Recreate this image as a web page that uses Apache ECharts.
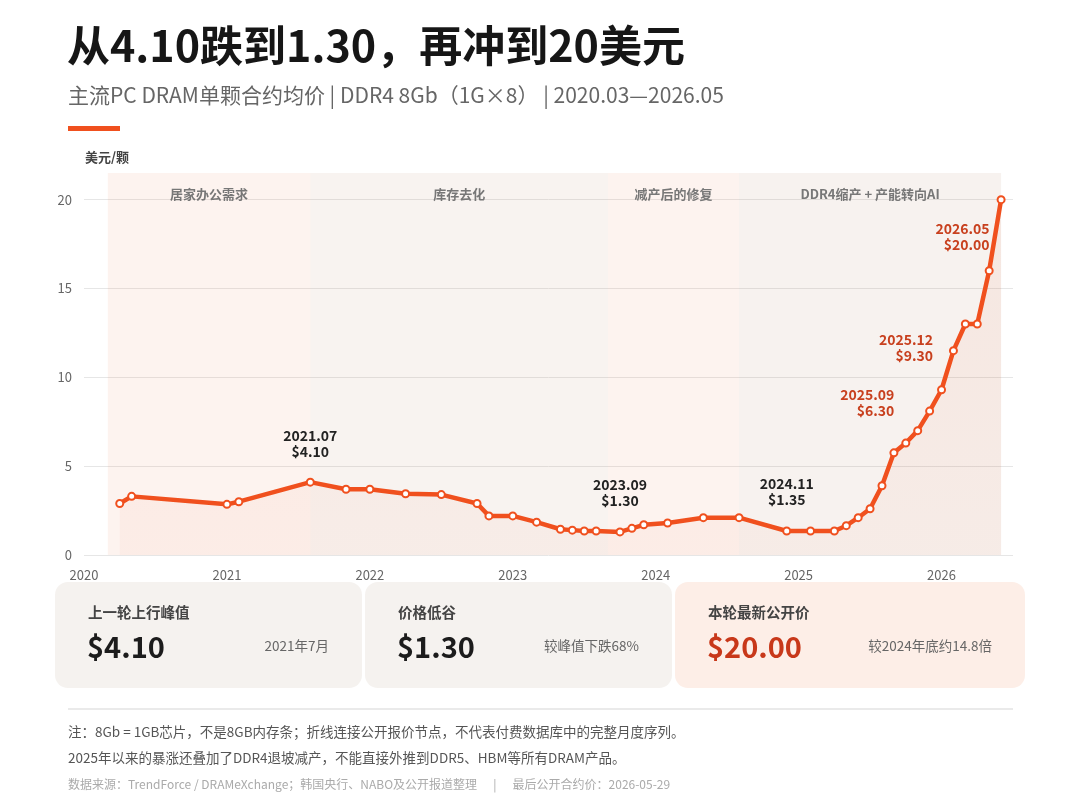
<!DOCTYPE html>
<html>
<head>
    <meta charset="UTF-8">
    <title>DDR4 8Gb 合约价</title>
    <script type="text/javascript" src="https://cdn.jsdelivr.net/npm/echarts@6/dist/echarts.min.js"></script>
    <style>
        html, body { margin: 0; padding: 0; background: #ffffff; }
        #main { width: 1080px; height: 810px; }
    </style>
</head>
<body>
    <div id="main"></div>
    <script>
        // 公开报价节点（月份 -> 美元/颗）
        var months = ['2020.03', '2020.04', '2020.12', '2021.01', '2021.07', '2021.10', '2021.12',
            '2022.03', '2022.06', '2022.09', '2022.10', '2022.12', '2023.02', '2023.04', '2023.05',
            '2023.06', '2023.07', '2023.09', '2023.10', '2023.11', '2024.01', '2024.04', '2024.07',
            '2024.11', '2025.01', '2025.03', '2025.04', '2025.05', '2025.06', '2025.07', '2025.08',
            '2025.09', '2025.10', '2025.11', '2025.12', '2026.01', '2026.02', '2026.03', '2026.04',
            '2026.05'];
        var prices = [2.90, 3.30, 2.85, 3.00, 4.10, 3.70, 3.70, 3.45, 3.40, 2.90, 2.20, 2.20, 1.85,
            1.45, 1.40, 1.35, 1.35, 1.30, 1.50, 1.70, 1.80, 2.10, 2.10, 1.35, 1.35, 1.35, 1.65,
            2.10, 2.60, 3.90, 5.75, 6.30, 7.00, 8.10, 9.30, 11.50, 13.00, 13.00, 16.00, 20.00];

        // 阶段背景
        var phaseNames = ['居家办公需求', '库存去化', '减产后的修复', 'DDR4缩产 + 产能转向AI'];
        var phaseStart = ['2020.02', '2021.07', '2023.08', '2024.07'];
        var phaseEnd = ['2021.07', '2023.08', '2024.07', '2026.05'];

        // 标注的节点
        var noteMonths = ['2021.07', '2023.09', '2024.11', '2025.09', '2025.12', '2026.05'];

        var yearTicks = [2020, 2021, 2022, 2023, 2024, 2025, 2026];

        var ORANGE = '#f0501e';
        var DARK_RED = '#c8401e';
        var FONT = "'Noto Sans CJK SC', 'Noto Sans', sans-serif";

        // 月份按月末换算成年份小数
        function toX(m) {
            var p = m.split('.');
            return Number(p[0]) + Number(p[1]) / 12;
        }
        function priceOf(m) {
            return prices[months.indexOf(m)];
        }

        // 标签样式（位置只在这里）
        var noteStyle = {
            '2021.07': { position: 'top', distance: 18, color: '#222' },
            '2023.09': { position: 'top', distance: 19, color: '#222' },
            '2024.11': { position: 'top', distance: 19, color: '#222' },
            '2025.09': { position: 'left', distance: 7, offset: [0, -40], color: DARK_RED },
            '2025.12': { position: 'left', distance: 4, offset: [0, -42], color: DARK_RED },
            '2026.05': { position: 'left', distance: 7, offset: [0, 37], color: DARK_RED }
        };

        var lineData = months.map(function (m, i) {
            var item = { value: [toX(m), prices[i]] };
            if (noteMonths.indexOf(m) >= 0) {
                var s = noteStyle[m];
                item.label = {
                    show: true,
                    position: s.position,
                    distance: s.distance,
                    offset: s.offset || [0, 0],
                    formatter: m + '\n$' + prices[i].toFixed(2),
                    color: s.color,
                    fontSize: 14,
                    fontWeight: 'bold',
                    lineHeight: 16,
                    fontFamily: FONT
                };
            }
            return item;
        });

        var bandColors = ['rgba(235,135,95,0.10)', 'rgba(185,135,105,0.10)',
            'rgba(235,135,95,0.10)', 'rgba(185,135,105,0.11)'];
        var bands = phaseNames.map(function (n, i) {
            return [
                { name: n, xAxis: toX(phaseStart[i]), itemStyle: { color: bandColors[i] } },
                { xAxis: toX(phaseEnd[i]) }
            ];
        });

        // 卡片数值
        var peak = priceOf('2021.07');
        var trough = priceOf('2023.09');
        var latest = priceOf('2026.05');
        var endOf2024 = priceOf('2024.11');
        var cards = [
            { title: '上一轮上行峰值', value: '$' + peak.toFixed(2), note: '2021年7月' },
            { title: '价格低谷', value: '$' + trough.toFixed(2),
              note: '较峰值下跌' + Math.round((1 - trough / peak) * 100) + '%' },
            { title: '本轮最新公开价', value: '$' + latest.toFixed(2),
              note: '较2024年底约' + (latest / endOf2024).toFixed(1) + '倍' }
        ];
        var cardBox = [[55, 307], [365, 307], [675, 350]];

        var graphics = [
            { type: 'text', x: 67, y: 46, style: { text: '从4.10跌到1.30，再冲到20美元',
                fontSize: 43, fontWeight: 'bold', fill: '#161616', fontFamily: FONT, verticalAlign: 'middle' } },
            { type: 'text', x: 68, y: 95, style: { text: '主流PC DRAM单颗合约均价 | DDR4 8Gb（1G×8） | 2020.03—2026.05',
                fontSize: 21, fill: '#666', fontFamily: FONT, verticalAlign: 'middle' } },
            { type: 'rect', shape: { x: 68, y: 126, width: 52, height: 5 }, style: { fill: ORANGE } },
            { type: 'text', x: 85, y: 157, style: { text: '美元/颗', fontSize: 13, fontWeight: 'bold',
                fill: '#444', fontFamily: FONT, verticalAlign: 'middle' } },
            { type: 'line', shape: { x1: 68, y1: 709, x2: 1013, y2: 709 },
              style: { stroke: '#e3e3e3', lineWidth: 1.5 } },
            { type: 'text', x: 68, y: 732, style: { text: '注：8Gb = 1GB芯片，不是8GB内存条；折线连接公开报价节点，不代表付费数据库中的完整月度序列。',
                fontSize: 13.5, fill: '#555', fontFamily: FONT, verticalAlign: 'middle' } },
            { type: 'text', x: 68, y: 758, style: { text: '2025年以来的暴涨还叠加了DDR4退坡减产，不能直接外推到DDR5、HBM等所有DRAM产品。',
                fontSize: 13.5, fill: '#555', fontFamily: FONT, verticalAlign: 'middle' } },
            { type: 'text', x: 68, y: 784, style: { text: '数据来源：TrendForce / DRAMeXchange；韩国央行、NABO及公开报道整理      |      最后公开合约价：2026-05-29',
                fontSize: 12, fill: '#aaa', fontFamily: FONT, verticalAlign: 'middle' } }
        ];

        cards.forEach(function (c, i) {
            var x0 = cardBox[i][0], w = cardBox[i][1];
            var last = i === cards.length - 1;
            graphics.push({ type: 'rect', shape: { x: x0, y: 582, width: w, height: 106, r: 13 },
                style: { fill: last ? '#fdeee7' : '#f5f2ef' } });
            graphics.push({ type: 'text', x: x0 + 33, y: 612, style: { text: c.title, fontSize: 14.5,
                fontWeight: 'bold', fill: '#444', fontFamily: FONT, verticalAlign: 'middle' } });
            graphics.push({ type: 'text', x: x0 + 32, y: 647, style: { text: c.value, fontSize: 29,
                fontWeight: 'bold', fill: last ? '#c8381a' : '#1c1c1c', fontFamily: FONT, verticalAlign: 'middle' } });
            graphics.push({ type: 'text', x: x0 + w - 33, y: 646, style: { text: c.note, fontSize: 13.5,
                fill: '#666', fontFamily: FONT, align: 'right', verticalAlign: 'middle' } });
        });

        var chart = echarts.init(document.getElementById('main'), null, { renderer: 'canvas' });
        var option = {
            animation: false,
            backgroundColor: '#ffffff',
            textStyle: { fontFamily: FONT },
            grid: { left: 84, right: 67, top: 173, bottom: 255 },
            xAxis: {
                type: 'value',
                min: yearTicks[0],
                max: 2026.5,
                interval: 1,
                axisLine: { show: false },
                axisTick: { show: false },
                splitLine: { show: false },
                axisLabel: {
                    color: '#666', fontSize: 13, margin: 14, showMaxLabel: false,
                    formatter: function (v) { return yearTicks.indexOf(v) >= 0 ? String(v) : ''; }
                }
            },
            yAxis: {
                type: 'value',
                min: 0,
                max: 21.5,
                interval: 5,
                axisLine: { show: false },
                axisTick: { show: false },
                axisLabel: { color: '#666', fontSize: 13, margin: 12, showMaxLabel: false },
                splitLine: { lineStyle: { color: ['#e6e6e6', '#e6e6e6', '#e6e6e6', '#e6e6e6', '#e6e6e6', 'rgba(0,0,0,0)'], width: 1 } }
            },
            series: [{
                type: 'line',
                data: lineData,
                symbol: 'circle',
                symbolSize: 7,
                showAllSymbol: true,
                lineStyle: { color: ORANGE, width: 4.5 },
                itemStyle: { color: '#ffffff', borderColor: ORANGE, borderWidth: 2 },
                areaStyle: {
                    color: new echarts.graphic.LinearGradient(0, 0, 0, 1, [
                        { offset: 0, color: 'rgba(232,110,70,0.12)' },
                        { offset: 1, color: 'rgba(232,110,70,0.07)' }
                    ])
                },
                z: 3,
                markArea: {
                    silent: true,
                    label: {
                        show: true, position: 'insideTop', distance: 15,
                        color: '#777', fontSize: 13, fontWeight: 'bold', fontFamily: FONT
                    },
                    data: bands
                }
            }],
            graphic: graphics
        };
        chart.setOption(option);
    </script>
</body>
</html>
